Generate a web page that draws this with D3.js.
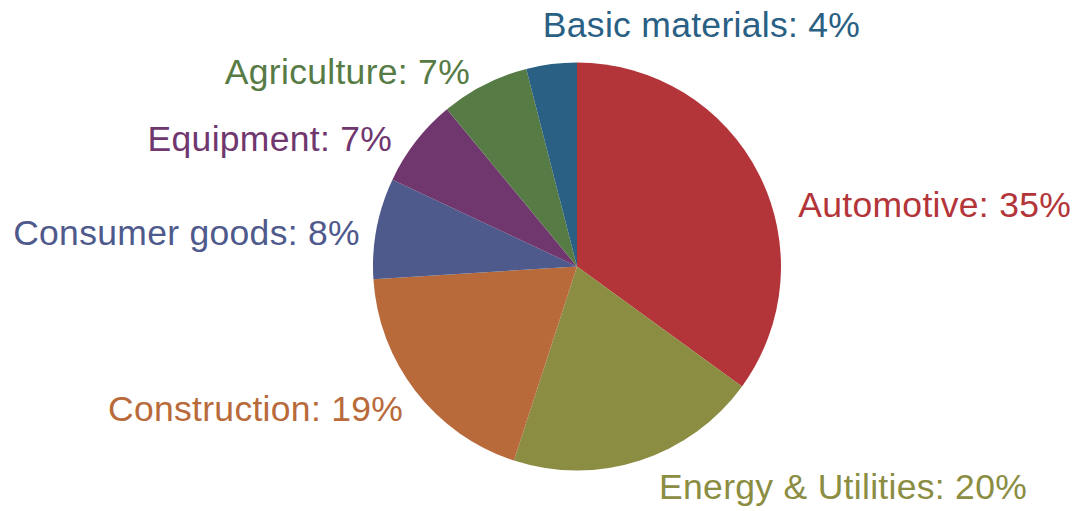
<!DOCTYPE html>
<html>
<head>
<meta charset="utf-8">
<script src="https://cdn.jsdelivr.net/npm/d3@7/dist/d3.min.js"></script>
<style>
  html, body { margin: 0; padding: 0; background: #ffffff; }
  svg { display: block; }
  text { font-family: "Liberation Sans", Arial, Helvetica, sans-serif; }
</style>
</head>
<body>
<svg id="chart" width="1078" height="511"></svg>
<script>
const categories = ["Automotive", "Energy & Utilities", "Construction", "Consumer goods", "Equipment", "Agriculture", "Basic materials"];
const shares = [35, 20, 19, 8, 7, 7, 4];
const colors = ["#b3353a", "#8b8d43", "#b86a3b", "#4f5a8c", "#70376f", "#577b45", "#296083"];

const W = 1078, H = 511;
const cx = 577, cy = 266.5, r = 204;
const svg = d3.select("#chart");
const g = svg.append("g").attr("transform", `translate(${cx},${cy})`);

const data = categories.map((c, i) => ({ name: c, value: shares[i], color: colors[i] }));
const pie = d3.pie().value(d => d.value).sort(null);
const arcs = pie(data);
const arc = d3.arc().innerRadius(0).outerRadius(r);

g.selectAll("path.slice")
  .data(arcs)
  .join("path")
  .attr("class", "slice")
  .attr("d", arc)
  .attr("fill", d => d.data.color);

// label placement: along mid-angle at a radius outside the pie, with small layout tweaks (degrees, px)
const labelPad = 20;
const deg = Math.PI / 180;
const tweaks = {
  "Automotive": { dAngle: 9.5, dr: 8, anchor: null },
  "Energy & Utilities": { dAngle: -3.1, dr: 4, anchor: null },
  "Construction": { dAngle: 0, dr: -4, anchor: null },
  "Consumer goods": { dAngle: 0, dr: -3, anchor: null },
  "Equipment": { dAngle: -1.6, dr: 5, anchor: null },
  "Agriculture": { dAngle: -0.85, dr: 5, anchor: null },
  "Basic materials": { dAngle: -0.6, dr: 28, anchor: "start" }
};
g.selectAll("text.lbl")
  .data(arcs)
  .join("text")
  .attr("class", "lbl")
  .each(function(d) {
    const t = tweaks[d.data.name] || { dAngle: 0, dr: 0, anchor: null };
    const a = (d.startAngle + d.endAngle) / 2 + t.dAngle * deg;
    const R = r + labelPad + t.dr;
    const x = R * Math.sin(a);
    const y = -R * Math.cos(a);
    const anchor = t.anchor || (Math.sin(a) >= 0 ? "start" : "end");
    d3.select(this)
      .attr("x", x)
      .attr("y", y + 8)
      .attr("text-anchor", anchor)
      .attr("dominant-baseline", "central");
  })
  .attr("fill", d => d.data.color)
  .attr("font-size", 35.5)
  .attr("letter-spacing", 0.3)
  .text(d => `${d.data.name}: ${d.data.value}%`);
</script>
</body>
</html>
